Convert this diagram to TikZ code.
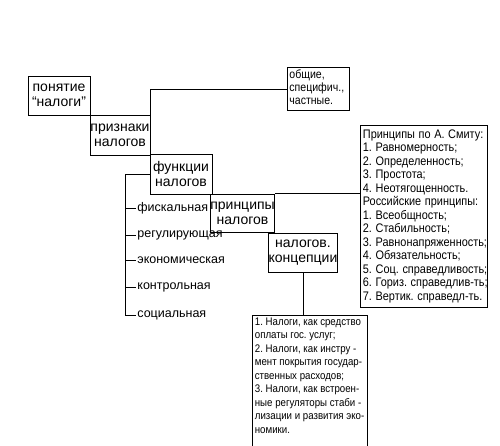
\documentclass[tikz,border=0pt]{standalone}
\usepackage{fontspec}
\setmainfont{Liberation Sans}
\usetikzlibrary{positioning}

% narrow multi-line text, as in the boxes of the reference
\newcommand\narrowlines[1]{\scalebox{0.88}[1]{\begin{tabular}{@{}l@{}}#1\end{tabular}}}

\tikzset{
  lbox/.style={draw, inner sep=0pt, align=center, font=\fontsize{14}{15}\selectfont},
  func/.style={anchor=west, inner sep=1pt, font=\fontsize{12.5}{14}\selectfont},
  link/.style={line width=0.8pt}
}

\begin{document}
\frenchspacing
\begin{tikzpicture}[x=1pt,y=-1pt,line width=0.8pt]
\useasboundingbox (0,0) rectangle (500,445);

% main chain of boxes
\node [lbox, minimum width=62pt, minimum height=39pt] (ponyatie) at (59,95.5) {понятие\\“налоги”};
\node [lbox, minimum width=60pt, minimum height=40pt] (priznaki) at (120,135) {признаки\\налогов};
\node [lbox, minimum width=62pt, minimum height=40pt] (funkcii) at (181,174) {функции\\налогов};
\node [lbox, minimum width=61pt, minimum height=38pt] (principy) at (242.5,213) {принципы\\налогов};
\node [lbox, minimum width=60pt, minimum height=39pt] (koncepcii) at (303,252.5) {налогов.\\концепции};

% text boxes
\node [draw, inner sep=2pt, anchor=north west, text width=58pt, align=left,
       font=\fontsize{12}{13}\selectfont] (vidy) at (287,67)
  {\narrowlines{общие,\\специфич.,\\частные.}};
\node [draw, inner sep=2.5pt, align=left, anchor=north west, text width=122pt,
       minimum height=182pt, font=\fontsize{12.4}{13.5}\selectfont] (smit) at (360,125)
  {\narrowlines{Принципы по А. Смиту:\\1. Равномерность;\\2. Определенность;\\3. Простота;\\4. Неотягощенность.\\Российские принципы:\\1. Всеобщность;\\2. Стабильность;\\3. Равнонапряженность;\\4. Обязательность;\\5. Соц. справедливость;\\6. Гориз. справедлив-ть;\\7. Вертик. справедл-ть.}};
\draw (252,450) -- (252,315) coordinate (bottl) -- (367,315) -- (367,450);
\node [inner sep=2.5pt, align=left, anchor=north west,
       font=\fontsize{11}{13.5}\selectfont] (teorii) at ([yshift=2pt]bottl)
  {\narrowlines{1. Налоги, как средство\\оплаты гос. услуг;\\2. Налоги, как инстру -\\мент покрытия государ-\\ственных расходов;\\3. Налоги, как встроен-\\ные регуляторы стаби -\\лизации и развития эко-\\номики.}};

% connectors
\draw [link] (priznaki.north east) |- (vidy.west);
\draw [link] (principy.north east) -- (principy.north east -| smit.west);
\draw [link] (koncepcii.south) -- (koncepcii.south |- bottl);

% functions
\coordinate (fstem) at (125,174);
\draw [link] (funkcii.west |- fstem) -- (fstem) -- (125,315);
\foreach \y/\name/\txt in {208/fisk/фискальная, 235/regul/регулирующая, 260/ekon/экономическая, 287/kontr/контрольная, 315/soc/социальная} {
  \node [func] (\name) at (136,\y) {\txt};
  \draw [link] (125,\y) -- (\name.west);
}
\end{tikzpicture}
\end{document}
